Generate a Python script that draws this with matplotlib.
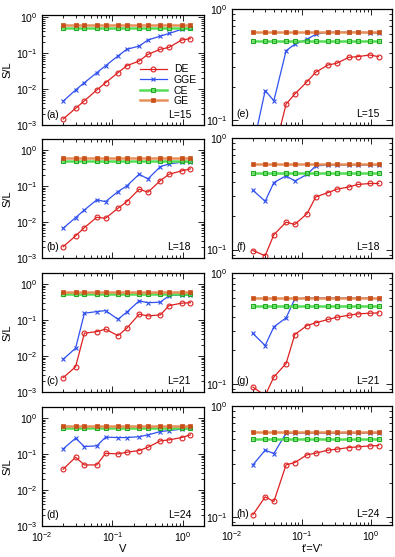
import matplotlib
matplotlib.use("Agg")
import matplotlib.pyplot as plt
from matplotlib.ticker import LogLocator, NullFormatter

plt.rcParams["font.family"] = ["Liberation Sans", "DejaVu Sans"]
plt.rcParams["mathtext.fontset"] = "custom"
plt.rcParams["mathtext.rm"] = "Liberation Sans"
plt.rcParams["mathtext.it"] = "Liberation Sans:italic"

# x values (V for left column, t'=V' for right column)
x_vals = [0.02, 0.03, 0.04, 0.06, 0.08, 0.12, 0.16, 0.24, 0.32, 0.48, 0.64, 0.96, 1.28]
sizes = [15, 18, 21, 24]

# left column: S/L vs V
de_left = [
    [0.00147, 0.0029, 0.0047, 0.0094, 0.015, 0.0284, 0.0444, 0.060, 0.092, 0.127, 0.144, 0.23, 0.25],
    [0.00206, 0.0041, 0.00695, 0.0135, 0.0127, 0.024, 0.0366, 0.081, 0.067, 0.14, 0.211, 0.261, 0.296],
    [0.0025, 0.0050, 0.0428, 0.0473, 0.0552, 0.0366, 0.0587, 0.144, 0.129, 0.138, 0.25, 0.291, 0.30],
    [0.0376, 0.081, 0.0494, 0.0494, 0.104, 0.100, 0.111, 0.124, 0.153, 0.23, 0.245, 0.284, 0.337],
]
gge_left = [
    [0.0046, 0.0094, 0.015, 0.0284, 0.0444, 0.083, 0.127, 0.156, 0.23, 0.296, 0.35, 0.455, 0.485],
    [0.0067, 0.0132, 0.0215, 0.041, 0.0366, 0.0695, 0.10, 0.211, 0.156, 0.344, 0.408, 0.455, 0.464],
    [0.0081, 0.0164, 0.153, 0.17, 0.181, 0.104, 0.164, 0.337, 0.30, 0.31, 0.473, 0.49, 0.49],
    [0.138, 0.273, 0.16, 0.167, 0.291, 0.284, 0.284, 0.30, 0.337, 0.416, 0.444, 0.485, 0.517],
]

# right column: S/L vs t'=V'
de_right = [
    [0.03, 0.04, 0.05, 0.139, 0.171, 0.221, 0.269, 0.313, 0.324, 0.367, 0.372, 0.385, 0.372],
    [0.098, 0.088, 0.136, 0.176, 0.168, 0.21, 0.296, 0.324, 0.347, 0.364, 0.383, 0.391, 0.391],
    [0.093, 0.078, 0.115, 0.152, 0.278, 0.335, 0.355, 0.38, 0.398, 0.415, 0.427, 0.433, 0.436],
    [0.104, 0.151, 0.137, 0.294, 0.308, 0.362, 0.375, 0.399, 0.407, 0.421, 0.427, 0.436, 0.439],
]
gge_right = [
    [0.057, 0.184, 0.149, 0.421, 0.481, 0.533, 0.592, 0.617, 0.617, 0.617, 0.617, 0.612, 0.604],
    [0.34, 0.271, 0.399, 0.458, 0.412, 0.471, 0.563, 0.571, 0.571, 0.571, 0.571, 0.571, 0.571],
    [0.284, 0.221, 0.326, 0.393, 0.583, 0.595, 0.595, 0.595, 0.595, 0.595, 0.595, 0.592, 0.585],
    [0.294, 0.399, 0.372, 0.568, 0.568, 0.568, 0.568, 0.568, 0.568, 0.568, 0.568, 0.568, 0.568],
]
ge_level = [0.617, 0.58, 0.60, 0.583]
ce_level = [0.512, 0.487, 0.508, 0.507]

W, H = 395, 557
fig = plt.figure(figsize=(W / 100, H / 100), dpi=100)

# panel frames in pixels (top, bottom)
left_rows = [(15, 125), (139, 258), (273, 392), (407, 526)]
right_rows = [(9, 125), (138, 258), (273, 392), (406, 525)]
left_ylim = [(1e-3, 1.14), (1e-3, 2), (1e-3, 2), (1e-3, 2)]
right_ylim = [(0.09, 1), (0.084, 1), (0.084, 1), (0.084, 1)]
letters_left = ["(a)", "(b)", "(c)", "(d)"]
letters_right = ["(e)", "(f)", "(g)", "(h)"]

c_de = "#dd2020"
c_gge = "#3050f0"
c_ce_line = "#55dd55"
c_ce = "#20aa20"
c_ge_line = "#e8905a"
c_ge = "#c8501a"
fs = 7.5


def style_axis(ax, ylim, show_x):
    ax.set_xscale("log")
    ax.set_yscale("log")
    ax.set_xlim(0.01, 2)
    ax.set_ylim(*ylim)
    ax.xaxis.set_major_locator(LogLocator(base=10, numticks=10))
    ax.xaxis.set_minor_locator(LogLocator(base=10, subs=range(2, 10), numticks=20))
    ax.yaxis.set_major_locator(LogLocator(base=10, numticks=10))
    ax.yaxis.set_minor_locator(LogLocator(base=10, subs=range(2, 10), numticks=20))
    ax.xaxis.set_minor_formatter(NullFormatter())
    ax.yaxis.set_minor_formatter(NullFormatter())
    ax.tick_params(which="both", direction="in", top=True, right=True, labelsize=fs, width=0.6)
    ax.tick_params(which="major", length=4, pad=3)
    ax.tick_params(which="minor", length=2)
    if not show_x:
        ax.tick_params(labelbottom=False)
    for s in ax.spines.values():
        s.set_linewidth(0.9)


def draw(ax, de, gge, ge, ce):
    n = len(x_vals)
    l1, = ax.plot(x_vals, de, color=c_de, lw=0.9, marker="o", ms=3.5, mfc="none", mew=0.8)
    l2, = ax.plot(x_vals, gge, color=c_gge, lw=0.9, marker="x", ms=3.5, mew=0.8)
    l3, = ax.plot(x_vals, [ce] * n, color=c_ce_line, lw=1.8, marker="s", ms=3.2,
                  mfc="none", mec=c_ce, mew=0.8)
    l4, = ax.plot(x_vals, [ge] * n, color=c_ge_line, lw=1.8, marker="s", ms=2.8,
                  mfc=c_ge, mec=c_ge, mew=0.5)
    return [l1, l2, l3, l4]


for i in range(4):
    t, b = left_rows[i]
    axl = fig.add_axes([42 / W, 1 - b / H, 162 / W, (b - t) / H])
    style_axis(axl, left_ylim[i], i == 3)
    handles = draw(axl, de_left[i], gge_left[i], ge_level[i], ce_level[i])
    axl.text(0.03, 0.05, letters_left[i], transform=axl.transAxes, fontsize=fs,
             ha="left", va="bottom")
    axl.text(0.92, 0.05, f"L={sizes[i]}", transform=axl.transAxes, fontsize=fs,
             ha="right", va="bottom")
    axl.set_ylabel("S/L", fontsize=8, labelpad=3)
    if i == 0:
        axl.legend(handles, ["DE", "GGE", "CE", "GE"], loc="upper left",
                   bbox_to_anchor=(0.605, 0.55), frameon=False, fontsize=fs,
                   borderpad=0, handlelength=2.55, handletextpad=0.7,
                   labelspacing=0.05, borderaxespad=0)
    if i == 3:
        axl.set_xlabel("V", fontsize=8, labelpad=0)

    t, b = right_rows[i]
    axr = fig.add_axes([232 / W, 1 - b / H, 160 / W, (b - t) / H])
    style_axis(axr, right_ylim[i], i == 3)
    draw(axr, de_right[i], gge_right[i], ge_level[i], ce_level[i])
    axr.text(0.03, 0.05, letters_right[i], transform=axr.transAxes, fontsize=fs,
             ha="left", va="bottom")
    axr.text(0.92, 0.05, f"L={sizes[i]}", transform=axr.transAxes, fontsize=fs,
             ha="right", va="bottom")
    if i == 3:
        axr.set_xlabel("t'=V'", fontsize=8, labelpad=1)

fig.savefig("out.png", dpi=100)
